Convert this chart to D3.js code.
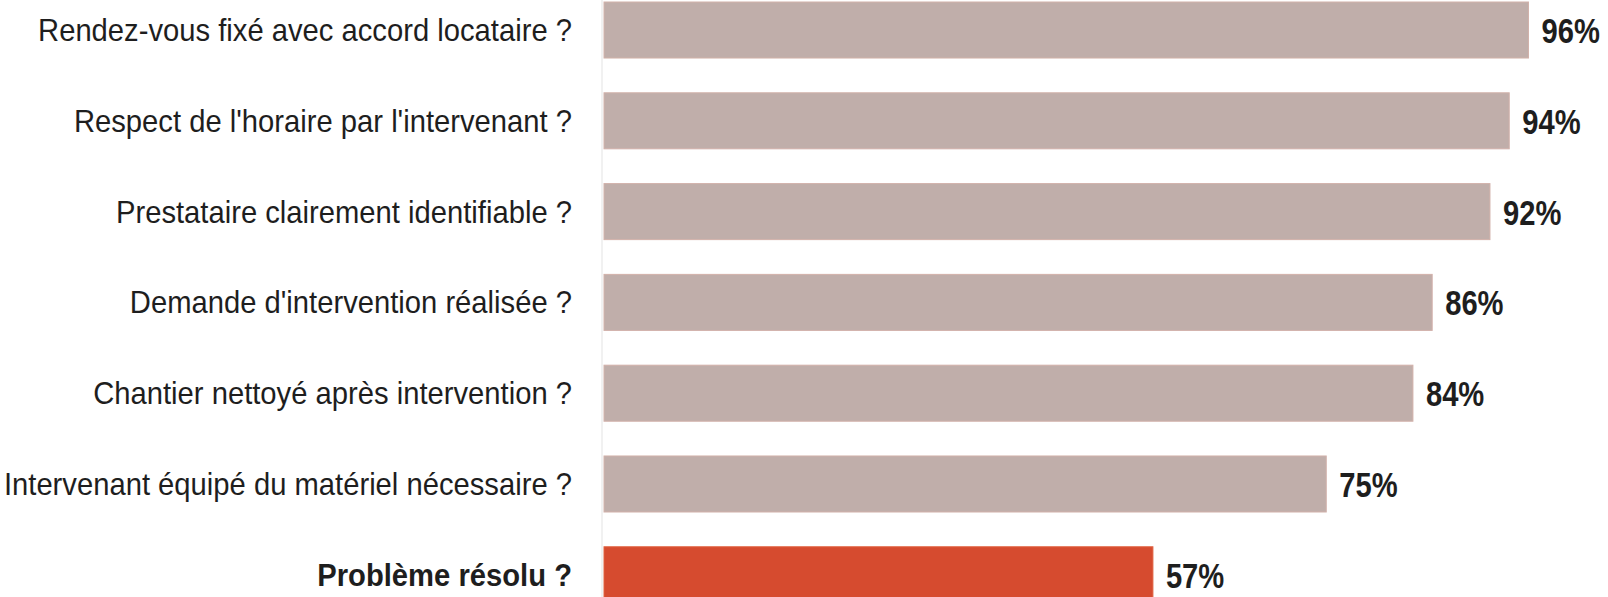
<!DOCTYPE html>
<html>
<head>
<meta charset="utf-8">
<script src="https://cdn.jsdelivr.net/npm/d3@7"></script>
<style>
  html, body { margin: 0; padding: 0; background: #ffffff; }
  svg { display: block; }
</style>
</head>
<body>
<svg id="chart" width="1608" height="597"></svg>
<script>
const categories = [
  "Rendez-vous fixé avec accord locataire ?",
  "Respect de l'horaire par l'intervenant ?",
  "Prestataire clairement identifiable ?",
  "Demande d'intervention réalisée ?",
  "Chantier nettoyé après intervention ?",
  "Intervenant équipé du matériel nécessaire ?",
  "Problème résolu ?"
];
const values = [96, 94, 92, 86, 84, 75, 57];
const highlighted = [false, false, false, false, false, false, true];
const valueLabels = ["96%", "94%", "92%", "86%", "84%", "75%", "57%"];

const W = 1608, H = 597;
const svg = d3.select("#chart");

const x = d3.scaleLinear().domain([0, 100]).range([604, 1567]);
const y = d3.scaleBand().domain(categories).range([2, 602.8]).paddingInner(0.383).paddingOuter(0);

const rows = categories.map((c, i) => ({ c, v: values[i], hi: highlighted[i], lab: valueLabels[i] }));

// faint axis line
svg.append("line")
  .attr("x1", x(0) - 2).attr("x2", x(0) - 2)
  .attr("y1", 0).attr("y2", H)
  .attr("stroke", "#ececec").attr("stroke-width", 1.5);

// bars
svg.selectAll("rect.bar").data(rows).enter().append("rect")
  .attr("class", "bar")
  .attr("x", x(0))
  .attr("y", d => y(d.c))
  .attr("width", d => x(d.v) - x(0))
  .attr("height", y.bandwidth())
  .attr("fill", d => d.hi ? "#d64b2f" : "#c0aeaa")
  .attr("stroke", d => d.hi ? "#e0603f" : "#d2b1aa")
  .attr("stroke-width", 1);

// category labels
const catG = svg.selectAll("g.cat").data(rows).enter().append("g")
  .attr("class", "cat")
  .attr("transform", d => `translate(572,${y(d.c) + y.bandwidth() / 2 + 11}) scale(0.942,1)`);
catG.append("text")
  .attr("text-anchor", "end")
  .attr("font-family", "'Liberation Sans', Arial, sans-serif")
  .attr("font-size", 31)
  .attr("font-weight", d => d.hi ? "bold" : "normal")
  .attr("fill", "#1e1e1e")
  .text(d => d.c);

// value labels
const valG = svg.selectAll("g.val").data(rows).enter().append("g")
  .attr("class", "val")
  .attr("transform", d => `translate(${x(d.v) + 13},${y(d.c) + y.bandwidth() / 2 + 13}) scale(0.81,1)`);
valG.append("text")
  .attr("text-anchor", "start")
  .attr("font-family", "'Liberation Sans', Arial, sans-serif")
  .attr("font-size", 36)
  .attr("font-weight", "bold")
  .attr("fill", "#1e1e1e")
  .text(d => d.lab);
</script>
</body>
</html>
